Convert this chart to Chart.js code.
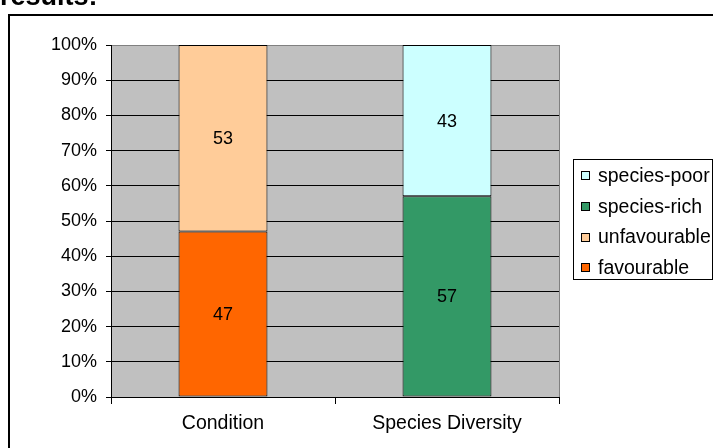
<!DOCTYPE html>
<html>
<head>
<meta charset="utf-8">
<script src="https://cdn.jsdelivr.net/npm/chart.js@4/dist/chart.umd.min.js"></script>
<style>
  html, body { margin: 0; padding: 0; background: #fff; }
  #wrap { position: relative; width: 713px; height: 448px; overflow: hidden; }
  canvas { display: block; }
</style>
</head>
<body>
<div id="wrap"><canvas id="chart" width="713" height="448"></canvas></div>
<script>
// Survey results: share of sites per assessment
const categories = ['Condition', 'Species Diversity'];
const favourable = [47, null];
const unfavourable = [53, null];
const speciesRich = [null, 57];
const speciesPoor = [null, 43];
const yTickLabels = ['0%', '10%', '20%', '30%', '40%', '50%', '60%', '70%', '80%', '90%', '100%'];
const heading = 'results:';

const FONT = '"Liberation Sans", Arial, sans-serif';

// Grey plot background
const plotBackground = {
  id: 'plotBackground',
  beforeDraw(chart) {
    const { ctx, chartArea: a } = chart;
    ctx.save();
    ctx.fillStyle = '#c0c0c0';
    ctx.fillRect(a.left, a.top, a.right - a.left, a.bottom - a.top);
    ctx.restore();
  }
};

// Value labels centred in each segment
const segmentLabels = {
  id: 'segmentLabels',
  afterDatasetsDraw(chart) {
    const { ctx } = chart;
    ctx.save();
    ctx.font = '18px ' + FONT;
    ctx.fillStyle = '#000';
    ctx.textAlign = 'center';
    ctx.textBaseline = 'middle';
    chart.data.datasets.forEach((ds, i) => {
      const meta = chart.getDatasetMeta(i);
      meta.data.forEach((bar, j) => {
        const v = ds.data[j];
        if (v == null) return;
        const p = bar.getProps(['x', 'y', 'base'], true);
        ctx.fillText(String(v), p.x, (p.y + p.base) / 2 + 1);
      });
    });
    ctx.restore();
  }
};

// Plot edge, outer frame, boxed legend and heading
const decorations = {
  id: 'decorations',
  afterDraw(chart) {
    const { ctx, chartArea: a } = chart;
    ctx.save();
    // right edge of the plot area
    ctx.strokeStyle = '#808080';
    ctx.lineWidth = 1;
    ctx.beginPath();
    ctx.moveTo(Math.round(a.right) + 0.5, a.top);
    ctx.lineTo(Math.round(a.right) + 0.5, a.bottom);
    ctx.stroke();

    // outer frame
    ctx.strokeStyle = '#000';
    ctx.lineWidth = 2;
    ctx.beginPath();
    ctx.moveTo(9, 460);
    ctx.lineTo(9, 15);
    ctx.lineTo(720, 15);
    ctx.stroke();

    // legend
    const lx = 573, ly = 159, lw = 139, lh = 120;
    ctx.fillStyle = '#fff';
    ctx.fillRect(lx, ly, lw, lh);
    ctx.lineWidth = 1;
    ctx.strokeStyle = '#000';
    ctx.strokeRect(lx + 0.5, ly + 0.5, lw, lh);
    const items = chart.data.datasets.slice().reverse();
    ctx.font = '19.5px ' + FONT;
    ctx.textAlign = 'left';
    ctx.textBaseline = 'middle';
    items.forEach((ds, k) => {
      const cy = 175.5 + k * 30.8;
      ctx.fillStyle = ds.backgroundColor;
      ctx.fillRect(581, Math.round(cy - 4.5), 9, 9);
      ctx.strokeStyle = '#000';
      ctx.strokeRect(581.5, Math.round(cy - 4.5) + 0.5, 8, 8);
      ctx.fillStyle = '#000';
      ctx.fillText(ds.label, 598, cy + 1);
    });

    // heading, clipped by the top of the page
    ctx.font = 'bold 27px ' + FONT;
    ctx.textBaseline = 'alphabetic';
    ctx.fillText(heading, 0, 5);
    ctx.restore();
  }
};

const common = { borderColor: '#000', borderWidth: 1, borderSkipped: false, barPercentage: 0.397, categoryPercentage: 1 };

new Chart(document.getElementById('chart'), {
  type: 'bar',
  data: {
    labels: categories,
    datasets: [
      Object.assign({ label: 'favourable', data: favourable, backgroundColor: '#ff6600' }, common),
      Object.assign({ label: 'unfavourable', data: unfavourable, backgroundColor: '#ffcc99' }, common),
      Object.assign({ label: 'species-rich', data: speciesRich, backgroundColor: '#339966' }, common),
      Object.assign({ label: 'species-poor', data: speciesPoor, backgroundColor: '#ccffff' }, common)
    ]
  },
  options: {
    responsive: false,
    animation: false,
    devicePixelRatio: 1,
    layout: { padding: { left: 0, right: 154, top: 45, bottom: 0 } },
    plugins: { legend: { display: false }, tooltip: { enabled: false } },
    scales: {
      x: {
        stacked: true,
        afterFit(scale) { scale.height = 51; },
        grid: { drawOnChartArea: false, drawTicks: true, tickLength: 7, color: '#000', offset: true },
        border: { display: true, color: '#000', width: 1 },
        ticks: { color: '#000', font: { family: FONT, size: 19.5 }, padding: 8 }
      },
      y: {
        stacked: true,
        min: 0,
        max: 100,
        afterFit(scale) { scale.width = 111; },
        grid: {
          color: ctx => (ctx.tick && ctx.tick.value === 100 ? '#808080' : '#000'),
          tickColor: '#000',
          tickLength: 5,
          lineWidth: 1
        },
        border: { display: true, color: '#000', width: 1 },
        ticks: {
          stepSize: 10,
          color: '#000',
          padding: 9,
          font: { family: FONT, size: 18 },
          callback: (v, i) => yTickLabels[i]
        }
      }
    }
  },
  plugins: [plotBackground, segmentLabels, decorations]
});
</script>
</body>
</html>
